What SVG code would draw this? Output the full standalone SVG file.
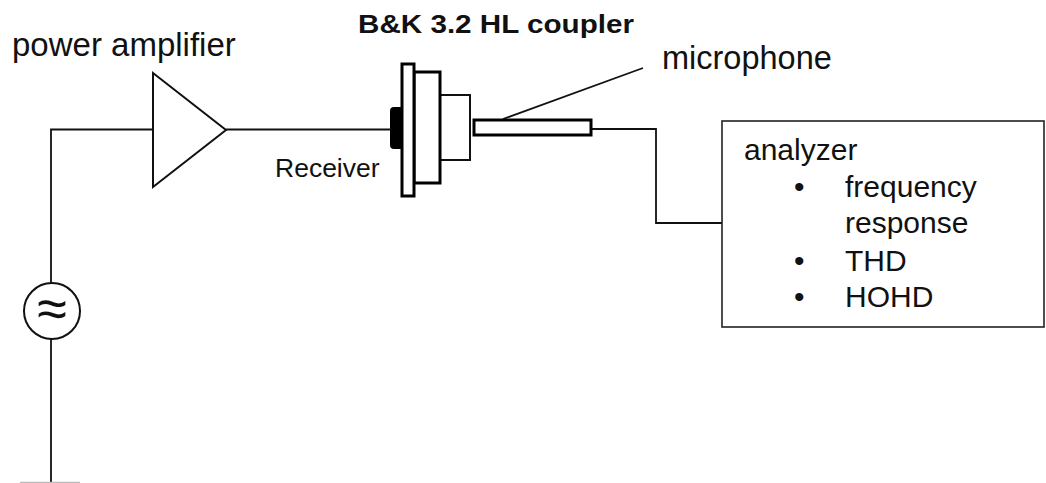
<svg xmlns="http://www.w3.org/2000/svg" width="1046" height="483" viewBox="0 0 1046 483">
<style>
.w{fill:none;stroke:#111;stroke-width:1.8}
.t{font-family:"Liberation Sans",Arial,sans-serif;fill:#111}
.thick{fill:#fff;stroke:#000;stroke-width:3}
</style>
<rect width="1046" height="483" fill="#fff"/>
<g id="connectors">
<polyline class="w" points="51,283 51,129.5 153,129.5"/>
<line class="w" x1="51" y1="339" x2="51" y2="483"/>
<line class="w" x1="226" y1="129.5" x2="390" y2="129.5"/>
<polyline class="w" points="591,129 656,129 656,223 722,223"/>
<line class="w" x1="503" y1="119" x2="643" y2="68"/>
<line x1="20" y1="482.5" x2="80" y2="482.5" stroke="#bbb" stroke-width="1.5"/>
</g>
<g id="source">
<circle cx="52" cy="311" r="28" fill="#fff" stroke="#111" stroke-width="2"/>
<text class="t" x="52" y="327" font-size="54" text-anchor="middle">≈</text>
</g>
<g id="amplifier">
<polygon points="153,73 226,130 153,187" fill="#fff" stroke="#111" stroke-width="2"/>
<text class="t" x="12" y="56" font-size="33">power amplifier</text>
</g>
<g id="coupler">
<path d="M402,107 L394,107 Q390,107 390,111 L390,145 Q390,149 394,149 L402,149 Z" fill="#000"/>
<rect x="440" y="95" width="30" height="65" fill="#fff" stroke="#111" stroke-width="2"/>
<rect class="thick" x="414" y="72" width="26" height="111"/>
<rect class="thick" x="402" y="64" width="12" height="132"/>
<text class="t" x="358" y="33" font-size="25" font-weight="bold" textLength="276" lengthAdjust="spacingAndGlyphs">B&amp;K 3.2 HL coupler</text>
<text class="t" x="275" y="177" font-size="26.5">Receiver</text>
</g>
<g id="microphone">
<rect class="thick" x="474" y="120" width="117" height="15"/>
<text class="t" x="662" y="69" font-size="32.5">microphone</text>
</g>
<g id="analyzer">
<rect x="722" y="121" width="322" height="206" fill="#fff" stroke="#222" stroke-width="1.6"/>
<text class="t" x="744" y="160" font-size="30">analyzer</text>
<text class="t" x="794" y="197" font-size="30">•</text>
<text class="t" x="845" y="197" font-size="30">frequency</text>
<text class="t" x="845" y="233" font-size="30">response</text>
<text class="t" x="794" y="271" font-size="30">•</text>
<text class="t" x="845" y="271" font-size="30">THD</text>
<text class="t" x="794" y="307" font-size="30">•</text>
<text class="t" x="845" y="307" font-size="30">HOHD</text>
</g>
</svg>
